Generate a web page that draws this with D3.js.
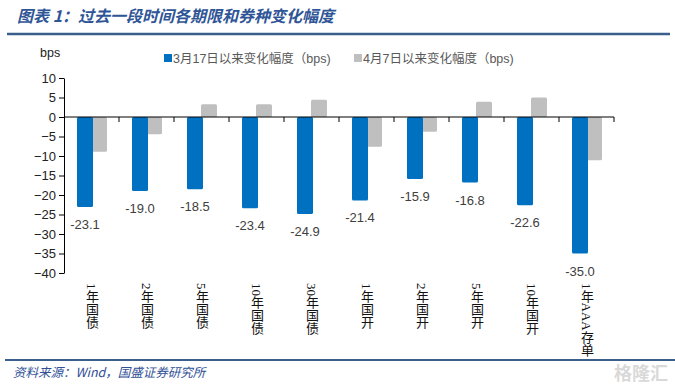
<!DOCTYPE html>
<html>
<head>
<meta charset="utf-8">
<script src="https://cdn.jsdelivr.net/npm/d3@7"></script>
<style>
  body { margin: 0; background: #fff; }
  text { font-family: "Liberation Sans", Arial, "Noto Sans CJK SC", sans-serif; }
</style>
</head>
<body>
<div id="chart"></div>
<script>
// data
const categories = ["1年国债", "2年国债", "5年国债", "10年国债", "30年国债",
                    "1年国开", "2年国开", "5年国开", "10年国开", "1年AAA存单"];
const since0317 = [-23.1, -19.0, -18.5, -23.4, -24.9, -21.4, -15.9, -16.8, -22.6, -35.0];
const since0407 = [-8.9, -4.4, 3.3, 3.3, 4.4, -7.6, -3.8, 3.9, 5.0, -11.1];
const seriesNames = ["3月17日以来变化幅度（bps)", "4月7日以来变化幅度（bps)"];
const yTicks = [10, 5, 0, -5, -10, -15, -20, -25, -30, -35, -40];

const W = 675, H = 388;
const blue = "#0070C0", grey = "#BFBFBF";

const svg = d3.select("#chart").append("svg")
    .attr("width", W)
    .attr("height", H);

// title + rules
svg.append("text")
    .attr("x", 17).attr("y", 22)
    .attr("fill", "#2F5597")
    .attr("font-size", 16).attr("font-weight", "bold").attr("font-style", "italic")
    .style("font-family", "'Noto Sans CJK SC', sans-serif")
    .text("图表 1：过去一段时间各期限和券种变化幅度");
svg.append("line").attr("x1", 7).attr("x2", 670).attr("y1", 34).attr("y2", 34)
    .attr("stroke", "#3B5F8C").attr("stroke-width", 2.5);
svg.append("line").attr("x1", 5).attr("x2", 675).attr("y1", 360).attr("y2", 360)
    .attr("stroke", "#3B5F8C").attr("stroke-width", 2);
svg.append("text")
    .attr("x", 13).attr("y", 377)
    .attr("fill", "#2F4F96")
    .attr("font-size", 12.5).attr("font-style", "italic")
    .style("font-family", "'Noto Sans CJK SC', sans-serif")
    .text("资料来源：Wind，国盛证券研究所");
svg.append("text")
    .attr("x", 668).attr("y", 380).attr("text-anchor", "end")
    .attr("fill", "#D9D9D9").attr("font-size", 18).attr("font-weight", "bold")
    .style("font-family", "'Noto Sans CJK SC', sans-serif")
    .text("格隆汇");

// scales
const x = d3.scaleBand().domain(categories).range([64, 614]);
const y = d3.scaleLinear().domain([-40, 10]).range([273, 78]);
const bw = 16;

// y axis
svg.append("g")
    .attr("transform", "translate(64,0)")
    .call(d3.axisLeft(y).tickValues(yTicks).tickSize(5).tickSizeOuter(0).tickPadding(3))
    .call(g => g.select(".domain").attr("stroke", "#000"))
    .call(g => g.selectAll("text").attr("font-size", 13).attr("fill", "#222")
        .style("font-family", "'Liberation Sans', Arial, sans-serif"));

svg.append("text")
    .attr("x", 40).attr("y", 57)
    .attr("font-size", 12.5).attr("fill", "#222")
    .text("bps");

// bars: grey first so blue sits on top
svg.append("g").selectAll("rect")
    .data(since0407)
    .join("rect")
    .attr("x", (d, i) => x(categories[i]) + 27)
    .attr("y", d => y(Math.max(0, d)))
    .attr("width", bw)
    .attr("height", d => Math.abs(y(d) - y(0)))
    .attr("rx", 1.5)
    .attr("fill", grey);

svg.append("g").selectAll("rect")
    .data(since0317)
    .join("rect")
    .attr("x", (d, i) => x(categories[i]) + 13)
    .attr("y", d => y(Math.max(0, d)))
    .attr("width", bw)
    .attr("height", d => Math.abs(y(d) - y(0)))
    .attr("rx", 1.5)
    .attr("fill", blue);

// value labels for blue series
svg.append("g").selectAll("text")
    .data(since0317)
    .join("text")
    .attr("x", (d, i) => x(categories[i]) + 13 + bw / 2)
    .attr("y", d => y(d) + 22)
    .attr("text-anchor", "middle")
    .attr("font-size", 13)
    .attr("fill", "#404040")
    .text(d => d.toFixed(1));

// x axis at zero
const xAxis = svg.append("g").attr("transform", `translate(0,${y(0)})`);
xAxis.append("line")
    .attr("x1", 64).attr("x2", 614)
    .attr("stroke", "#000");
xAxis.selectAll("line.tick")
    .data(categories.slice(1).concat(["end"]))
    .join("line")
    .attr("class", "tick")
    .attr("x1", (d, i) => i < categories.length - 1 ? x(d) : x.range()[1])
    .attr("x2", (d, i) => i < categories.length - 1 ? x(d) : x.range()[1])
    .attr("y1", 0).attr("y2", 5)
    .attr("stroke", "#000");

// vertical category labels
svg.append("g").selectAll("text")
    .data(categories)
    .join("text")
    .attr("x", d => x(d) + x.bandwidth() / 2)
    .attr("y", 283)
    .style("writing-mode", "vertical-rl")
    .style("font-family", "'Liberation Serif', 'Noto Sans CJK SC', serif")
    .attr("font-size", 13)
    .attr("fill", "#111")
    .text(d => d);

// legend
const legend = svg.append("g");
[[164, blue], [354, grey]].forEach(([lx, c], i) => {
    legend.append("rect").attr("x", lx).attr("y", 54).attr("width", 8).attr("height", 8).attr("fill", c);
    legend.append("text").attr("x", lx + 9).attr("y", 62.5)
        .attr("font-size", 12.5).attr("fill", "#595959")
        .text(seriesNames[i]);
});
</script>
</body>
</html>
